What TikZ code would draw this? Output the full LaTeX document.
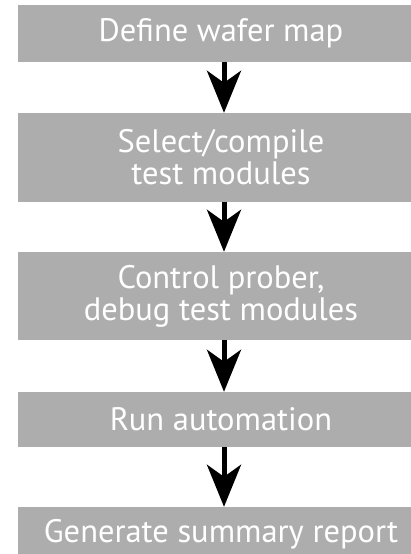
\documentclass[tikz,border=0pt]{standalone}
\usepackage{fontspec}
\setmainfont{PT Sans}
\usetikzlibrary{arrows.meta}
\definecolor{boxgray}{RGB}{173,173,173}
\tikzset{
  stepbox/.style={fill=boxgray, draw=none, text=white, align=center,
    minimum width=406pt, inner sep=0pt, font=\fontsize{32.5}{32}\selectfont},
  flow/.style={line width=5pt, -{Stealth[length=42pt, width=34pt, inset=12pt]}}
}
\begin{document}
\begin{tikzpicture}[x=1pt, y=-1pt]
  \useasboundingbox[fill=white] (0,0) rectangle (411,554);
  \node[stepbox, minimum height=57pt] (s1) at (221,33.5) {Define wafer map};
  \node[stepbox, minimum height=89pt] (s2) at (221,157.5) {Select/compile\\test modules};
  \node[stepbox, minimum height=88pt] (s3) at (221,296) {Control prober,\\debug test modules};
  \node[stepbox, minimum height=55pt] (s4) at (221,419.5) {Run automation};
  \node[stepbox, minimum height=55pt] (s5) at (221,534.5) {Generate summary report};
  \foreach \a/\b in {s1/s2, s2/s3, s3/s4, s4/s5}
    \draw[flow] ([xshift=3pt]\a.south) -- ([xshift=3pt]\b.north);
\end{tikzpicture}
\end{document}
